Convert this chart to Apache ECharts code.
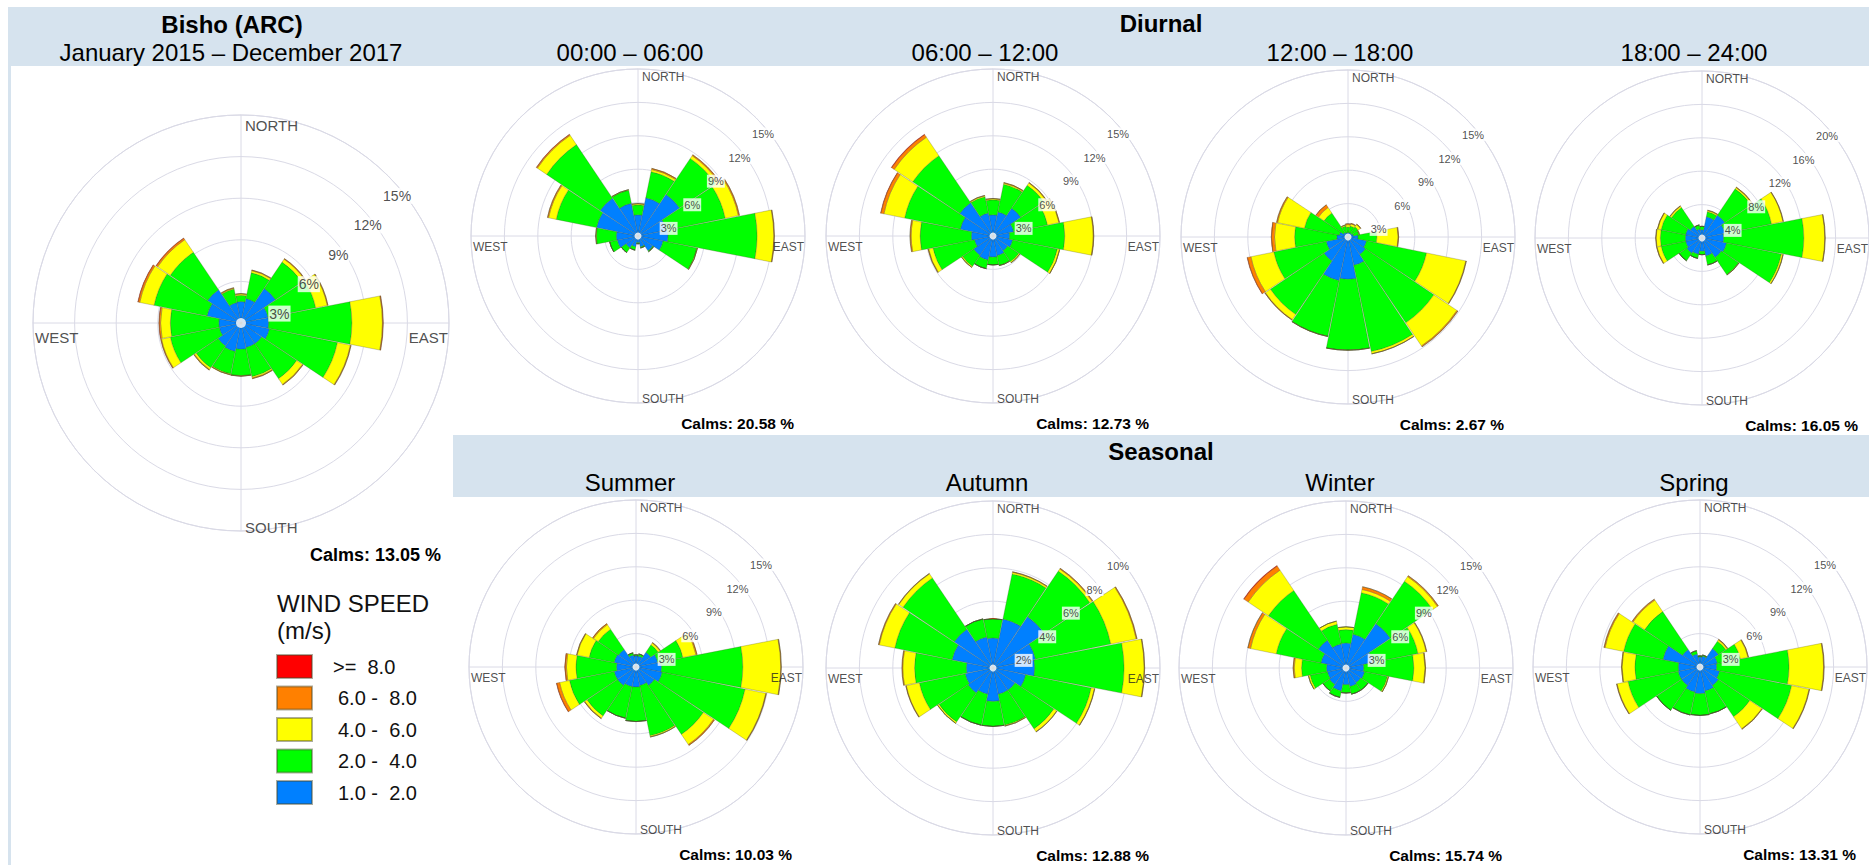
<!DOCTYPE html>
<html>
<head>
<meta charset="utf-8">
<script src="https://cdn.jsdelivr.net/npm/echarts@6/dist/echarts.min.js"></script>
<style>
  html, body { margin: 0; padding: 0; background: #fff; }
  #chart { width: 1869px; height: 865px; }
</style>
</head>
<body>
<div id="chart"></div>
<script>
// 16 compass sectors, clockwise from north
const directions = ['N', 'NNE', 'NE', 'ENE', 'E', 'ESE', 'SE', 'SSE', 'S', 'SSW', 'SW', 'WSW', 'W', 'WNW', 'NW', 'NNW'];
const speedClasses = ['1.0 -  2.0', '2.0 -  4.0', '4.0 -  6.0', '6.0 -  8.0', '>=  8.0'];
const speedColors = ['#0080ff', '#00ff00', '#ffff00', '#ff8000', '#ff0000'];

// Frequency (%) per direction and wind-speed class
// Bisho (ARC), January 2015 – December 2017
const annual1to2 = [1.55, 1.8, 3.0, 2.0, 2.0, 2.1, 1.8, 1.8, 1.9, 2.1, 2.0, 1.6, 1.6, 2.5, 2.9, 1.5];
const annual2to4 = [0.45, 1.9, 2.3, 3.5, 6.0, 5.0, 3.05, 2.15, 1.9, 1.65, 1.9, 3.6, 3.5, 3.9, 3.25, 1.0];
const annual4to6 = [0.1, 0.15, 0.25, 0.85, 2.2, 0.95, 0.5, 0.1, 0.03, 0.05, 0.15, 0.65, 0.7, 1.05, 1.1, 0.05];
const annual6to8 = [0.02, 0.05, 0.05, 0.05, 0.05, 0.05, 0.05, 0.05, 0.01, 0.02, 0.05, 0.05, 0.1, 0.12, 0.12, 0.05];
const annualOver8 = [0, 0, 0, 0, 0.01, 0, 0, 0, 0, 0, 0, 0.01, 0.02, 0.03, 0.03, 0];

// 00:00 – 06:00
const night1to2 = [1.9, 3.5, 4.5, 2.6, 2.7, 2.3, 1.6, 1.0, 0.6, 1.0, 1.3, 1.9, 1.95, 3.8, 4.1, 3.0];
const night2to4 = [0.9, 2.4, 3.9, 5.4, 8.0, 3.1, 0.1, 0.1, 0.1, 0.3, 0.5, 0.7, 1.8, 3.7, 5.8, 1.2];
const night4to6 = [0.1, 0.2, 0.3, 1.2, 1.5, 0.05, 0, 0, 0, 0, 0, 0, 0.05, 0.7, 1.0, 0.05];
const night6to8 = [0.02, 0.1, 0.1, 0.1, 0.05, 0, 0, 0, 0, 0, 0, 0, 0, 0.1, 0.1, 0];
const nightOver8 = [0, 0, 0, 0, 0, 0, 0, 0, 0, 0, 0, 0, 0, 0, 0.02, 0];

// 06:00 – 12:00
const morning1to2 = [1.9, 2.2, 3.0, 1.9, 1.5, 1.8, 1.6, 1.8, 1.9, 2.2, 2.1, 1.7, 1.95, 3.0, 3.6, 2.1];
const morning2to4 = [1.35, 2.55, 2.5, 3.1, 4.95, 4.1, 1.2, 0.9, 0.7, 0.8, 1.2, 3.8, 4.6, 5.1, 5.1, 1.5];
const morning4to6 = [0.1, 0.1, 0.25, 1.05, 2.55, 0.2, 0.1, 0.02, 0, 0, 0.1, 0.4, 0.8, 1.9, 2.0, 0.1];
const morning6to8 = [0.02, 0.05, 0.05, 0.05, 0.05, 0.02, 0.01, 0, 0, 0, 0.01, 0.05, 0.1, 0.28, 0.28, 0.02];
const morningOver8 = [0, 0, 0, 0, 0, 0, 0, 0, 0, 0, 0, 0, 0, 0.03, 0.05, 0];

// 12:00 – 18:00
const afternoon1to2 = [0.4, 0.4, 0.4, 0.5, 0.9, 1.7, 1.9, 2.6, 3.8, 4.0, 2.6, 2.0, 1.0, 0.8, 0.5, 0.4];
const afternoon2to4 = [0.5, 0.6, 0.7, 0.5, 1.7, 5.5, 7.4, 7.9, 6.35, 5.1, 5.8, 4.8, 3.8, 3.2, 2.1, 0.6];
const afternoon4to6 = [0.2, 0.2, 0.25, 0.05, 1.9, 3.6, 2.5, 0.2, 0.02, 0.02, 0.55, 2.1, 1.8, 2.45, 0.6, 0.1];
const afternoon6to8 = [0.1, 0.05, 0.05, 0, 0.05, 0.05, 0.1, 0.02, 0, 0, 0.05, 0.32, 0.28, 0.1, 0.28, 0];
const afternoonOver8 = [0, 0, 0, 0, 0, 0, 0, 0, 0, 0, 0, 0.03, 0.02, 0, 0.02, 0];

// 18:00 – 24:00
const evening1to2 = [1.0, 2.6, 3.3, 2.8, 2.6, 3.0, 2.8, 2.2, 1.6, 2.0, 2.2, 2.0, 2.0, 2.0, 1.7, 1.1];
const evening2to4 = [0.4, 0.6, 3.8, 5.7, 9.6, 6.7, 2.5, 1.1, 0.4, 0.5, 1.1, 3.0, 3.0, 3.0, 2.7, 0.5];
const evening4to6 = [0, 0.15, 0.2, 1.4, 2.5, 0.2, 0.05, 0, 0, 0, 0, 0.5, 0.5, 0.4, 0.2, 0];
const evening6to8 = [0, 0.05, 0.05, 0.05, 0.05, 0.02, 0, 0, 0, 0, 0, 0.05, 0.05, 0.05, 0.05, 0];
const eveningOver8 = [0, 0, 0, 0, 0, 0, 0, 0, 0, 0, 0, 0, 0, 0, 0, 0];

// Summer
const summer1to2 = [1.0, 1.0, 1.6, 2.0, 2.3, 2.4, 2.0, 1.7, 1.8, 1.8, 2.0, 2.0, 1.75, 2.0, 1.9, 1.1];
const summer2to4 = [0.1, 0.2, 0.8, 2.3, 7.3, 7.6, 5.3, 4.6, 3.1, 2.9, 3.3, 4.1, 3.65, 2.3, 2.2, 0.2];
const summer4to6 = [0, 0, 0.2, 1.2, 3.4, 1.9, 1.1, 0.1, 0, 0, 0.25, 0.9, 0.85, 1.1, 0.5, 0];
const summer6to8 = [0, 0, 0.05, 0.1, 0.05, 0.05, 0.1, 0.02, 0, 0, 0.05, 0.27, 0.13, 0.05, 0.1, 0];
const summerOver8 = [0, 0, 0, 0, 0, 0, 0, 0, 0, 0, 0, 0.03, 0.02, 0, 0, 0];

// Autumn
const autumn1to2 = [1.8, 3.0, 3.7, 2.6, 2.5, 2.0, 1.6, 1.6, 2.0, 1.6, 1.8, 1.7, 1.6, 2.5, 2.8, 1.9];
const autumn2to4 = [1.15, 2.75, 3.3, 4.6, 5.35, 4.0, 2.8, 1.9, 1.5, 1.9, 2.1, 2.8, 3.1, 3.5, 3.7, 1.1];
const autumn4to6 = [0, 0.1, 0.15, 1.55, 1.2, 0.2, 0.2, 0.05, 0, 0, 0.1, 0.8, 0.7, 0.95, 0.3, 0];
const autumn6to8 = [0, 0.03, 0.05, 0.05, 0.03, 0.02, 0.02, 0, 0, 0, 0, 0.03, 0.05, 0.05, 0.03, 0];
const autumnOver8 = [0, 0, 0, 0, 0, 0, 0, 0, 0, 0, 0, 0, 0, 0, 0, 0];

// Winter
const winter1to2 = [2.25, 3.1, 4.8, 2.5, 1.6, 1.7, 1.6, 1.7, 1.5, 2.1, 1.8, 1.7, 1.75, 2.3, 3.0, 2.2];
const winter2to4 = [1.2, 3.8, 4.6, 4.1, 4.5, 2.1, 0.8, 0.7, 0.75, 0.6, 0.7, 1.6, 2.25, 4.1, 5.4, 1.8];
const winter4to6 = [0.25, 0.3, 0.5, 0.75, 1.0, 0.1, 0, 0, 0, 0, 0, 0.15, 0.65, 2.35, 2.2, 0.3];
const winter6to8 = [0, 0.25, 0.1, 0.05, 0.05, 0, 0, 0, 0, 0, 0, 0, 0.1, 0.25, 0.45, 0];
const winterOver8 = [0, 0, 0, 0, 0, 0, 0, 0, 0, 0, 0, 0, 0, 0, 0.05, 0];

// Spring
const spring1to2 = [0.9, 1.0, 2.0, 1.6, 1.5, 1.8, 2.0, 2.2, 2.4, 2.3, 2.0, 2.0, 1.95, 3.4, 1.9, 1.2];
const spring2to4 = [0.1, 0.1, 0.8, 2.1, 6.5, 6.6, 3.4, 2.1, 1.95, 2.1, 2.7, 4.6, 3.9, 3.6, 4.1, 0.3];
const spring4to6 = [0, 0, 0.15, 0.7, 3.1, 1.6, 1.3, 0, 0, 0, 0, 1.0, 1.15, 1.7, 1.25, 0];
const spring6to8 = [0, 0, 0.05, 0.05, 0.05, 0.05, 0.05, 0, 0, 0, 0, 0.05, 0.05, 0.1, 0.1, 0];
const springOver8 = [0, 0, 0, 0, 0, 0, 0, 0, 0, 0, 0, 0, 0, 0, 0, 0];

// Calm percentages
const calms = [13.05, 20.58, 12.73, 2.67, 16.05, 10.03, 12.88, 15.74, 13.31];

// Ring ticks (%)
const ticks15 = [3, 6, 9, 12, 15];
const ticks20 = [4, 8, 12, 16, 20];
const ticks10 = [2, 4, 6, 8, 10];

// Panel titles
const diurnalTitles = ['00:00 – 06:00', '06:00 – 12:00', '12:00 – 18:00', '18:00 – 24:00'];
const seasonTitles = ['Summer', 'Autumn', 'Winter', 'Spring'];

const roseData = [
  [annual1to2, annual2to4, annual4to6, annual6to8, annualOver8],
  [night1to2, night2to4, night4to6, night6to8, nightOver8],
  [morning1to2, morning2to4, morning4to6, morning6to8, morningOver8],
  [afternoon1to2, afternoon2to4, afternoon4to6, afternoon6to8, afternoonOver8],
  [evening1to2, evening2to4, evening4to6, evening6to8, eveningOver8],
  [summer1to2, summer2to4, summer4to6, summer6to8, summerOver8],
  [autumn1to2, autumn2to4, autumn4to6, autumn6to8, autumnOver8],
  [winter1to2, winter2to4, winter4to6, winter6to8, winterOver8],
  [spring1to2, spring2to4, spring4to6, spring6to8, springOver8]
];
const roseTicks = [ticks15, ticks15, ticks15, ticks15, ticks20, ticks15, ticks10, ticks15, ticks15];

// Layout of each rose: centre and outer radius in px
const layout = [
  { c: [241, 323], r: 208, big: true },
  { c: [638, 236], r: 167 },
  { c: [993, 236], r: 167 },
  { c: [1348, 237], r: 167 },
  { c: [1702, 238], r: 167 },
  { c: [636, 667], r: 167 },
  { c: [993, 668], r: 167 },
  { c: [1346, 668], r: 167 },
  { c: [1700, 667], r: 167 }
];

const FF = '"Liberation Sans", Arial, Helvetica, sans-serif';
const gridColor = '#dadae6';
const bandColor = '#d6e3ee';
const NB = '\u00a0';

const polar = [], angleAxis = [], radiusAxis = [], series = [], graphic = [];

layout.forEach((L, i) => {
  const ticks = roseTicks[i];
  const max = ticks[ticks.length - 1];
  const step = ticks[0];
  const gi = 2 * i, bi = 2 * i + 1;
  polar.push({ center: L.c, radius: L.r });
  polar.push({ center: L.c, radius: L.r });

  // grid polar: rings + N/S/E/W cross
  angleAxis.push({
    polarIndex: gi, type: 'value', min: 0, max: 360, interval: 90, startAngle: 90, clockwise: true,
    axisLine: { show: true, lineStyle: { color: gridColor, width: 1 } },
    axisTick: { show: false }, axisLabel: { show: false },
    splitLine: { show: true, lineStyle: { color: gridColor, width: 1 } }
  });
  radiusAxis.push({
    polarIndex: gi, type: 'value', min: 0, max: max, interval: step,
    axisLine: { show: false }, axisTick: { show: false }, axisLabel: { show: false },
    splitLine: { show: true, lineStyle: { color: gridColor, width: 1 } }
  });
  // bar polar: 16 direction sectors centred on compass points
  angleAxis.push({
    polarIndex: bi, type: 'category', data: directions, startAngle: 90 + 360 / 32, clockwise: true,
    axisLine: { show: false }, axisTick: { show: false }, axisLabel: { show: false }, splitLine: { show: false }
  });
  radiusAxis.push({ polarIndex: bi, type: 'value', min: 0, max: max, show: false });

  roseData[i].forEach((vals, k) => {
    series.push({
      type: 'bar', coordinateSystem: 'polar', polarIndex: bi,
      name: speedClasses[k], stack: 'rose' + i, data: vals,
      barCategoryGap: '2%',
      itemStyle: { color: speedColors[k], borderColor: 'rgba(70,70,40,0.45)', borderWidth: 0.6 },
      emphasis: { disabled: true }, silent: true, z: 2
    });
  });

  const s = L.big ? 1 : 0.8;
  // ring value labels along the north-east diagonal
  series.push({
    type: 'scatter', coordinateSystem: 'polar', polarIndex: gi,
    data: ticks.map(t => [t, 45]), symbolSize: 1,
    itemStyle: { color: 'rgba(0,0,0,0)' }, silent: true, z: 6,
    label: {
      show: true, position: 'inside', offset: [Math.round(9 * s), Math.round(20 * s)],
      formatter: p => p.value[0] + '%',
      fontFamily: FF, fontSize: L.big ? 14 : 11, color: '#222',
      backgroundColor: '#fff', padding: [1, 1]
    }
  });
  // compass labels
  const cFont = L.big ? 15 : 12;
  const compass = [
    { value: [max, 0], label: { formatter: 'NORTH', align: 'left', offset: [4, Math.round(10 * s)] } },
    { value: [max, 90], label: { formatter: 'EAST', align: 'right', offset: [-1, L.big ? 14 : 11] } },
    { value: [max, 180], label: { formatter: 'SOUTH', align: 'left', offset: [4, -4] } },
    { value: [max, 270], label: { formatter: 'WEST', align: 'left', offset: [2, L.big ? 14 : 11] } }
  ];
  series.push({
    type: 'scatter', coordinateSystem: 'polar', polarIndex: gi,
    data: compass, symbolSize: 1, itemStyle: { color: 'rgba(0,0,0,0)' }, silent: true, z: 6,
    label: { show: true, position: 'inside', verticalAlign: 'middle', fontFamily: FF, fontSize: cFont, color: '#222' }
  });
  // centre hole
  series.push({
    type: 'scatter', coordinateSystem: 'polar', polarIndex: gi,
    data: [[0, 0]], symbol: 'circle', symbolSize: L.big ? 10 : 7,
    itemStyle: { color: '#fff' }, silent: true, z: 7
  });

  // calms note
  graphic.push({
    type: 'text', x: L.c[0] + (L.big ? 200 : 156), y: L.c[1] + (L.big ? 232 : 187), z: 10,
    style: { text: 'Calms: ' + calms[i].toFixed(2) + ' %', fontFamily: FF, fontWeight: 'bold',
             fontSize: L.big ? 18 : 15.5, fill: '#000', align: 'right', verticalAlign: 'middle' }
  });
});

// header bands and frame
graphic.unshift(
  { type: 'rect', shape: { x: 8, y: 7, width: 1861, height: 59 }, style: { fill: bandColor }, z: -10 },
  { type: 'rect', shape: { x: 453, y: 435, width: 1416, height: 62 }, style: { fill: bandColor }, z: -10 },
  { type: 'rect', shape: { x: 8, y: 66, width: 3, height: 799 }, style: { fill: bandColor }, z: -10 }
);

function headText(txt, x, y, bold) {
  return { type: 'text', x: x, y: y, z: 10,
           style: { text: txt, fontFamily: FF, fontSize: 24, fontWeight: bold ? 'bold' : 'normal',
                    fill: '#000', align: 'center', verticalAlign: 'middle' } };
}
graphic.push(headText('Bisho (ARC)', 232, 24, true));
graphic.push(headText('January 2015 – December 2017', 231, 52, false));
graphic.push(headText('Diurnal', 1161, 23, true));
graphic.push(headText('Seasonal', 1161, 451, true));
diurnalTitles.forEach((t, j) => graphic.push(headText(t, layout[1 + j].c[0] - 8, 52, false)));
seasonTitles.forEach((t, j) => graphic.push(headText(t, layout[5 + j].c[0] - 6, 482, false)));

// legend heading
graphic.push({
  type: 'text', x: 277, y: 590, z: 10,
  style: { text: 'WIND SPEED\n(m/s)', fontFamily: FF, fontSize: 24, lineHeight: 27, fill: '#111',
           align: 'left', verticalAlign: 'top' }
});

const option = {
  animation: false,
  backgroundColor: '#fff',
  polar: polar,
  angleAxis: angleAxis,
  radiusAxis: radiusAxis,
  legend: {
    data: speedClasses.slice().reverse(),
    orient: 'vertical', left: 276, top: 654, padding: 0,
    itemWidth: 35, itemHeight: 23, itemGap: 6.5, icon: 'rect',
    selectedMode: false,
    formatter: name => (name.charAt(0) === '>' ? '{a|' : '{b|') + name.replace(/ /g, NB) + '}',
    textStyle: {
      fontFamily: FF, fontSize: 20, color: '#111', lineHeight: 23,
      rich: {
        a: { fontFamily: FF, fontSize: 20, color: '#111', lineHeight: 23, padding: [0, 0, 0, 16] },
        b: { fontFamily: FF, fontSize: 20, color: '#111', lineHeight: 23, padding: [0, 0, 0, 21] }
      }
    }
  },
  series: series,
  graphic: graphic
};

const chart = echarts.init(document.getElementById('chart'), null, { renderer: 'svg' });
chart.setOption(option);
</script>
</body>
</html>
